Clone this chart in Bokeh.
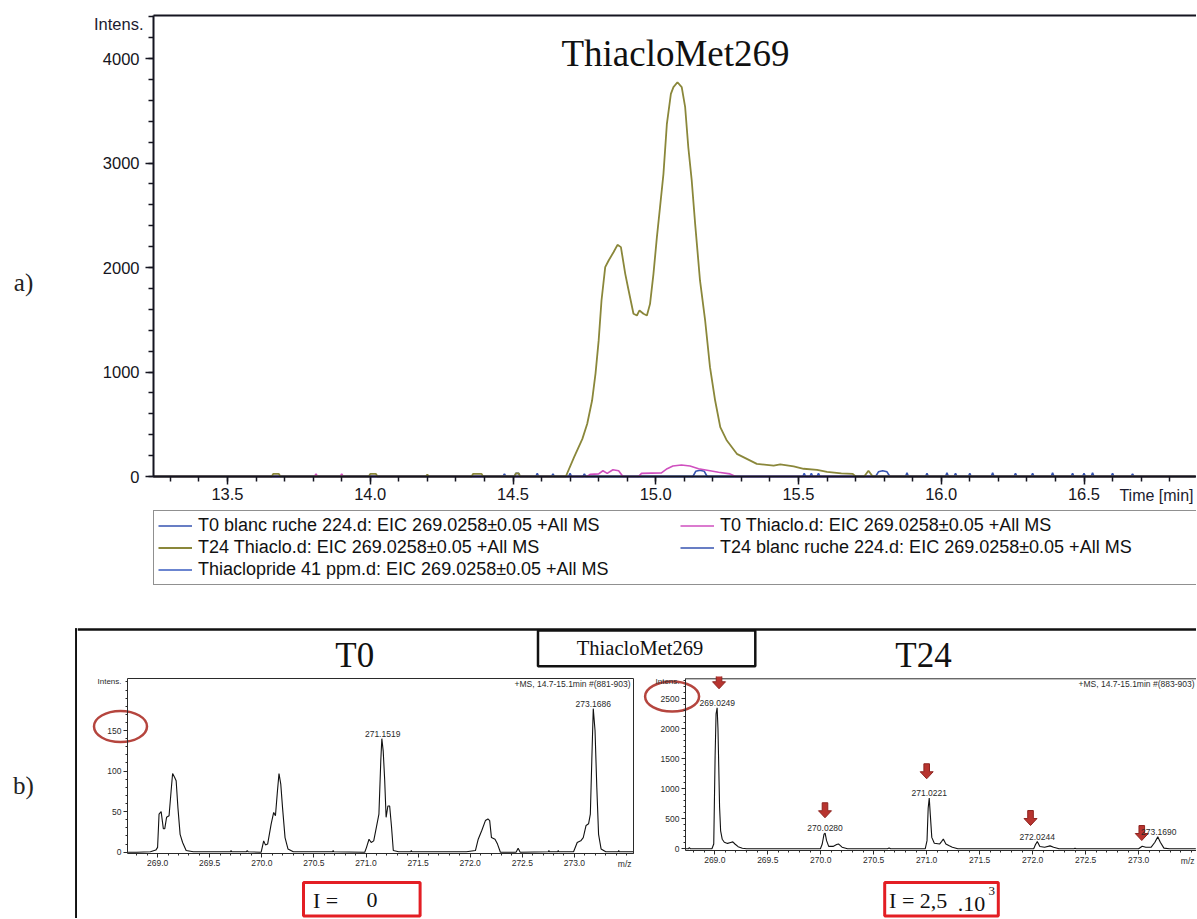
from bokeh.plotting import figure
from bokeh.models import (Range1d, FixedTicker, PrintfTickFormatter, Legend, LegendItem,
                          Label, LabelSet, ColumnDataSource)
from bokeh.layouts import row, column
from bokeh.embed import file_html
from bokeh.resources import INLINE
from bokeh.core.properties import value

# ================= DATA =================
# a) EIC 269.0258 +/- 0.05 chromatograms (time [min], intensity)
t24_thiaclo_t = [13.24, 13.655, 13.66, 13.68, 13.685, 13.995, 14.0, 14.02, 14.025, 14.195, 14.2, 14.205,
                 14.355, 14.36, 14.39, 14.395, 14.505, 14.51, 14.52, 14.525, 14.685, 14.714, 14.743, 14.760,
                 14.777, 14.789, 14.800, 14.810, 14.823, 14.835, 14.852, 14.866, 14.878, 14.893, 14.905,
                 14.922, 14.934, 14.943, 14.957, 14.969, 14.980, 14.992, 15.004, 15.015, 15.027, 15.039,
                 15.053, 15.062, 15.076, 15.091, 15.103, 15.114, 15.126, 15.138, 15.155, 15.173, 15.190,
                 15.208, 15.226, 15.249, 15.284, 15.319, 15.354, 15.413, 15.436, 15.483, 15.518, 15.565,
                 15.60, 15.65, 15.69, 15.70, 15.73, 15.745, 15.76, 16.89]
t24_thiaclo_i = [0, 0, 25, 25, 0, 0, 25, 25, 0, 0, 20, 0,
                 0, 25, 25, 0, 0, 30, 30, 0, 0, 185, 360, 505,
                 727, 985, 1300, 1684, 2003, 2067, 2146, 2217, 2195, 1942, 1780,
                 1557, 1541, 1589, 1557, 1541, 1652, 1939, 2290, 2577, 2896, 3375,
                 3662, 3726, 3773, 3726, 3534, 3151, 2833, 2418, 1876, 1493, 1046,
                 727, 472, 344, 217, 169, 121, 105, 115, 96, 74, 64,
                 45, 30, 25, 0, 0, 55, 0, 0]

t0_thiaclo_t = [13.24, 13.805, 13.81, 13.815, 13.895, 13.90, 13.905, 14.76, 14.77, 14.80, 14.815, 14.83,
                14.85, 14.87, 14.885, 14.94, 14.95, 15.02, 15.04, 15.06, 15.09, 15.12, 15.15, 15.18,
                15.22, 15.26, 15.28, 16.89]
t0_thiaclo_i = [0, 0, 25, 0, 0, 25, 0, 0, 20, 25, 55, 30,
                65, 55, 0, 0, 30, 35, 75, 100, 110, 100, 75, 60,
                40, 25, 0, 0]

t0_blank_t = [13.24, 14.465, 14.47, 14.475, 14.58, 14.585, 14.59, 14.635, 14.64, 14.645,
              14.695, 14.70, 14.705, 14.745, 14.75, 14.755, 15.875, 15.88, 15.885, 15.945,
              15.95, 15.955, 16.015, 16.02, 16.025, 16.095, 16.10, 16.105, 16.175, 16.18,
              16.185, 16.255, 16.26, 16.265, 16.315, 16.32, 16.325, 16.385, 16.39, 16.395,
              16.455, 16.46, 16.465, 16.525, 16.53, 16.535, 16.595, 16.60, 16.605, 16.665,
              16.67, 16.675, 16.89]
t0_blank_i = [0, 0, 25, 0, 0, 30, 0, 0, 25, 0,
              0, 30, 0, 0, 25, 0, 0, 35, 0, 0,
              30, 0, 0, 35, 0, 0, 30, 0, 0, 35,
              0, 0, 30, 0, 0, 30, 0, 0, 35, 0,
              0, 30, 0, 0, 35, 0, 0, 30, 0, 0,
              25, 0, 0]

t24_blank_t = [13.24, 14.505, 14.51, 14.52, 14.525, 15.13, 15.14, 15.155, 15.17, 15.18, 15.77,
               15.78, 15.795, 15.81, 15.82, 16.045, 16.05, 16.055, 16.495, 16.5, 16.505, 16.89]
t24_blank_i = [0, 0, 30, 30, 0, 0, 50, 60, 50, 0, 0,
               45, 55, 45, 0, 0, 30, 0, 0, 30, 0, 0]

thiaclopride_t = [13.24, 15.515, 15.52, 15.525, 15.54, 15.545, 15.55, 15.565, 15.57, 15.575, 16.89]
thiaclopride_i = [0, 0, 30, 0, 0, 30, 0, 0, 30, 0, 0]

legend_labels = ["T0 blanc ruche 224.d: EIC 269.0258\u00b10.05 +All MS",
                 "T0 Thiaclo.d: EIC 269.0258\u00b10.05 +All MS",
                 "T24 Thiaclo.d: EIC 269.0258\u00b10.05 +All MS",
                 "T24 blanc ruche 224.d: EIC 269.0258\u00b10.05 +All MS",
                 "Thiaclopride 41 ppm.d: EIC 269.0258\u00b10.05 +All MS"]

a_x_ticks = [13.5, 14.0, 14.5, 15.0, 15.5, 16.0, 16.5]
a_y_ticks = [0, 1000, 2000, 3000, 4000]

# b) mass spectra, +MS 14.7-15.1 min
t0_mz = [268.716, 268.80, 268.931, 268.983, 269.000, 269.014, 269.034, 269.055, 269.069, 269.086,
         269.110, 269.130, 269.144, 269.164, 269.178, 269.195, 269.216, 269.240, 269.274, 269.343,
         269.70, 269.705, 269.71, 269.85, 269.86, 269.87, 269.994, 270.018, 270.035, 270.056,
         270.090, 270.114, 270.131, 270.148, 270.165, 270.182, 270.199, 270.223, 270.251, 270.302,
         270.68, 270.685, 270.69, 270.988, 271.005, 271.029, 271.050, 271.074, 271.097, 271.124,
         271.142, 271.152, 271.165, 271.179, 271.193, 271.210, 271.227, 271.245, 271.262, 271.313,
         271.43, 271.435, 271.44, 271.964, 272.050, 272.077, 272.112, 272.146, 272.170, 272.187,
         272.204, 272.238, 272.262, 272.290, 272.44, 272.46, 272.48, 272.75, 272.755, 272.76,
         272.84, 272.845, 272.85, 272.992, 273.027, 273.061, 273.085, 273.112, 273.136, 273.153,
         273.167, 273.181, 273.198, 273.215, 273.232, 273.256, 273.301, 273.42, 273.425, 273.43,
         273.567]
t0_int = [0, 0, 0.5, 2.6, 6, 47, 50, 29, 29, 43,
          45, 76, 97, 92, 88, 55, 22, 12, 2, 0.5,
          0.5, 2, 0.5, 0.5, 2, 0.5, 0, 14, 9, 10,
          35, 49, 45, 72, 97, 84, 55, 18, 4, 0.5,
          0.5, 2, 0.5, 0, 6, 16, 12, 14, 29, 47,
          113, 140, 125, 90, 43, 57, 57, 31, 2, 0.5,
          0.5, 2, 0.5, 0.5, 2, 16, 27, 39, 41, 39,
          18, 16, 10, 0, 0, 5, 0, 0.5, 2, 0.5,
          0.5, 2, 0.5, 0.5, 12, 14, 18, 33, 35, 47,
          113, 177, 150, 80, 22, 4, 0.5, 0.5, 2, 0.5,
          0.5]

t24_mz = [268.723, 268.75, 268.76, 268.77, 268.973, 268.990, 269.003, 269.012, 269.022, 269.030,
          269.037, 269.045, 269.055, 269.070, 269.090, 269.120, 269.150, 269.170, 269.190, 269.220,
          269.260, 269.300, 269.997, 270.014, 270.031, 270.041, 270.055, 270.075, 270.116, 270.150,
          270.167, 270.201, 270.253, 270.63, 270.645, 270.66, 270.986, 271.003, 271.014, 271.024,
          271.034, 271.048, 271.072, 271.123, 271.140, 271.157, 271.181, 271.208, 271.242, 271.294,
          272.010, 272.027, 272.044, 272.068, 272.113, 272.164, 272.198, 272.249, 272.39, 272.40,
          272.41, 273.000, 273.034, 273.068, 273.119, 273.154, 273.181, 273.205, 273.239, 273.290,
          273.54]
t24_int = [0, 0, 20, 0, 0, 80, 1550, 2250, 2350, 2000,
           1400, 700, 300, 160, 110, 90, 105, 115, 80, 35,
           10, 0, 0, 80, 245, 261, 136, 40, 40, 70,
           81, 27, 0, 0, 15, 0, 0, 136, 680, 845,
           570, 190, 92, 81, 120, 163, 81, 54, 27, 0,
           0, 71, 120, 38, 27, 49, 27, 0, 0, 10,
           0, 0, 43, 27, 27, 109, 201, 109, 11, 0,
           0]

t0_peak_mz = [271.160, 273.181]
t0_peak_int = [140, 177]
t0_peak_lab = ["271.1519", "273.1686"]

t24_peak_mz = [269.024, 270.041, 271.024, 272.044, 273.190]
t24_peak_int = [2350, 261, 845, 120, 201]
t24_peak_lab = ["269.0249", "270.0280", "271.0221", "272.0244", "273.1690"]

t24_arrow_mz = [269.04, 270.04, 271.00, 271.98, 273.03]
t24_arrow_tip = [2667, 517, 1167, 388, 138]

ms_x_ticks = [269.0, 269.5, 270.0, 270.5, 271.0, 271.5, 272.0, 272.5, 273.0]
t0_y_ticks = [0, 50, 100, 150]
t24_y_ticks = [0, 500, 1000, 1500, 2000, 2500]

# ================= STYLE =================
SANS = "Liberation Sans"
SERIF = "Liberation Serif"
OLIVE = "#8a873a"
PINK = "#cf4fbf"
BLUE = "#3653b0"
BLUE2 = "#3a5cc0"
RED = "#e31e24"
DARKRED = "#b8342f"
CIRCLE = "#b5453e"


def base_fig(w, h, xr, yr):
    p = figure(width=w, height=h, x_range=Range1d(*xr), y_range=Range1d(*yr),
               output_backend="svg", toolbar_location=None,
               min_border_left=0, min_border_right=0, min_border_top=0, min_border_bottom=0)
    if "frame_align" in p.properties():
        p.frame_align = False
    p.grid.visible = False
    p.outline_line_color = None
    return p


def blank_fig(w, h, xr, yr):
    p = base_fig(w, h, xr, yr)
    p.axis.visible = False
    return p


def style_axis(ax, font_px, tick_out, minor_out, line_w, color):
    ax.axis_line_width = line_w
    ax.axis_line_color = color
    ax.major_tick_out = tick_out
    ax.major_tick_in = 0
    ax.minor_tick_out = minor_out
    ax.minor_tick_in = 0
    ax.major_tick_line_color = color
    ax.minor_tick_line_color = color
    ax.major_label_text_font = SANS
    ax.major_label_text_font_size = font_px
    ax.major_label_text_color = color


# ---------------- a) chromatogram ----------------
def tx(px):          # page pixel -> time
    return 13.5 + (px - 227.0) / 285.5


def ty(py):          # page pixel -> intensity
    return (476.0 - py) / 0.1045


top = base_fig(1121, 600, (tx(75), tx(1196)), (ty(600), ty(0)))
A_L, A_R, A_B, A_T = tx(153), tx(1196), 0.0, ty(15)

r_t0b = top.line(t0_blank_t, t0_blank_i, line_color=BLUE, line_width=1.6)
r_t24b = top.line(t24_blank_t, t24_blank_i, line_color=BLUE, line_width=1.6)
r_thp = top.line(thiaclopride_t, thiaclopride_i, line_color=BLUE2, line_width=1.6)
r_t0t = top.line(t0_thiaclo_t, t0_thiaclo_i, line_color=PINK, line_width=1.6)
r_t24t = top.line(t24_thiaclo_t, t24_thiaclo_i, line_color=OLIVE, line_width=1.8)

xa = top.xaxis[0]
xa.ticker = FixedTicker(ticks=a_x_ticks, minor_ticks=[round(13.3 + 0.1 * k, 1) for k in range(36)])
xa.formatter = PrintfTickFormatter(format="%.1f")
xa.fixed_location = A_B
xa.bounds = (A_L, A_R)
ya = top.yaxis[0]
ya.ticker = FixedTicker(ticks=a_y_ticks, minor_ticks=[200 * k for k in range(23)])
ya.fixed_location = A_L
ya.bounds = (A_B, A_T)
for ax in (xa, ya):
    style_axis(ax, "16.5px", 8, 5, 2, "#151520")
    ax.major_tick_line_width = 1.5
    ax.minor_tick_line_width = 1.5
xa.major_label_standoff = 3
ya.major_label_standoff = 6
top.segment(x0=[A_L], y0=[A_T], x1=[A_R], y1=[A_T], line_color="#151520", line_width=2)

top.add_layout(Label(x=tx(143), y=ty(23), text="Intens.", text_align="right",
                     text_baseline="middle", text_font=SANS, text_font_size="16.5px",
                     text_color="#1c1c30"))
top.add_layout(Label(x=tx(1193), y=ty(495), text="Time [min]", text_align="right",
                     text_baseline="middle", text_font=SANS, text_font_size="16px",
                     text_color="#1c1c30"))
top.add_layout(Label(x=tx(675), y=ty(53), text="ThiacloMet269", text_align="center",
                     text_baseline="middle", text_font=SERIF, text_font_size="37px",
                     text_color="#111111"))

legend = Legend(items=[LegendItem(label=legend_labels[0], renderers=[r_t0b]),
                       LegendItem(label=legend_labels[2], renderers=[r_t24t]),
                       LegendItem(label=legend_labels[4], renderers=[r_thp]),
                       LegendItem(label=legend_labels[1], renderers=[r_t0t]),
                       LegendItem(label=legend_labels[3], renderers=[r_t24b])],
                location=(78, 15), orientation="vertical", ncols=2, margin=0, padding=4,
                spacing=1, glyph_width=34, glyph_height=21, label_height=21,
                label_width=481, label_standoff=6,
                label_text_font=SANS, label_text_font_size="18px", label_text_color="#111111",
                border_line_color="#222222", border_line_width=1.2,
                background_fill_color="white", background_fill_alpha=1.0)
top.add_layout(legend)


# ---------------- b) spectra ----------------
def spectrum(width, fx, fy, cx0, cx1, area, mz, inten, yticks, yminor):
    L, R, B, T = fx(area[0]), fx(area[1]), fy(area[2]), fy(area[3])
    p = base_fig(width, 198, (fx(cx0), fx(cx1)), (fy(874), fy(676)))
    p.line(mz, inten, line_color="#111111", line_width=1.1)
    xa_ = p.xaxis[0]
    xa_.ticker = FixedTicker(ticks=ms_x_ticks,
                             minor_ticks=[round(268.8 + 0.1 * k, 1) for k in range(48)])
    xa_.formatter = PrintfTickFormatter(format="%.1f")
    xa_.fixed_location = B
    xa_.bounds = (L, R)
    ya_ = p.yaxis[0]
    ya_.ticker = FixedTicker(ticks=yticks, minor_ticks=yminor)
    ya_.formatter = PrintfTickFormatter(format="%d")
    ya_.fixed_location = L
    ya_.bounds = (B, T)
    for ax in (xa_, ya_):
        style_axis(ax, "8.5px", 4, 2, 1, "#2a2a2a")
        ax.major_label_standoff = 2
    p.segment(x0=[L], y0=[T], x1=[R], y1=[T], line_color="#2a2a2a", line_width=1)
    p.add_layout(Label(x=L, y=T, x_offset=-6, y_offset=-3, text="Intens.", text_align="right",
                       text_baseline="middle", text_font=SANS, text_font_size="8px",
                       text_color="#2a2a2a"))
    p.add_layout(Label(x=R, y=B, x_offset=-2, y_offset=-10, text="m/z", text_align="right",
                       text_baseline="middle", text_font=SANS, text_font_size="8.5px",
                       text_color="#2a2a2a"))
    return p, (L, R, B, T)


def t0x(px):
    return 269.0 + (px - 157.1) / 104.2


def t0y(py):
    return (851.7 - py) / 0.811


def t24x(px):
    return 269.0 + (px - 714.3) / 105.95


def t24y(py):
    return (848.3 - py) / 0.06


spec0, (L0, R0, B0, T0) = spectrum(563, t0x, t0y, 77, 640, (127, 633, 853.3, 678),
                                   t0_mz, t0_int, t0_y_ticks, [10 * k for k in range(22)])
spec0.segment(x0=[R0], y0=[B0], x1=[R0], y1=[T0], line_color="#2a2a2a", line_width=1)
spec0.add_layout(Label(x=R0, y=T0, text="+MS, 14.7-15.1min #(881-903)",
                       x_offset=-3, y_offset=-5, text_align="right", text_baseline="middle",
                       text_font=SANS, text_font_size="8.5px", text_color="#2a2a2a"))
spec0.add_layout(LabelSet(x="mz", y="i", text="lab", y_offset=2, text_align="center",
                          text_baseline="bottom", text_font=value(SANS), text_font_size="8.5px",
                          text_color="#2a2a2a",
                          source=ColumnDataSource(dict(mz=t0_peak_mz, i=t0_peak_int,
                                                       lab=t0_peak_lab))))
spec0.ellipse(x=[t0x(120)], y=[t0y(726)], width=53, height=31, width_units="screen",
              height_units="screen", fill_color=None, line_color=CIRCLE, line_width=2.5)

spec24, (L24, R24, B24, T24) = spectrum(556, t24x, t24y, 640, 1196, (685, 1196, 850, 678.3),
                                        t24_mz, t24_int, t24_y_ticks, [100 * k for k in range(29)])
spec24.add_layout(Label(x=R24, y=T24, text="+MS, 14.7-15.1min #(883-903)",
                        x_offset=-2, y_offset=-5, text_align="right", text_baseline="middle",
                        text_font=SANS, text_font_size="8.5px", text_color="#2a2a2a"))
spec24.add_layout(LabelSet(x="mz", y="i", text="lab", y_offset=2, text_align="center",
                           text_baseline="bottom", text_font=value(SANS), text_font_size="8.5px",
                           text_color="#2a2a2a",
                           source=ColumnDataSource(dict(mz=t24_peak_mz, i=t24_peak_int,
                                                        lab=t24_peak_lab))))
# red block arrows pointing at the peaks (shape given in pixels)
px_x = 1 / 105.95
px_y = 1 / 0.06
shape_dx = [0, -6.5, -2.8, -2.8, 2.8, 2.8, 6.5]
shape_dy = [0, 7, 7, 15, 15, 7, 7]
arrow_xs = [[m + d * px_x for d in shape_dx] for m in t24_arrow_mz]
arrow_ys = [[t + d * px_y for d in shape_dy] for t in t24_arrow_tip]
spec24.patches(arrow_xs, arrow_ys, fill_color=DARKRED, line_color="#8e2420", line_width=1)
spec24.ellipse(x=[t24x(671.6)], y=[t24y(696)], width=54, height=30, width_units="screen",
               height_units="screen", fill_color=None, line_color=CIRCLE, line_width=2.5)

# ---------------- frame / header / labels ----------------
left_a = blank_fig(75, 600, (0, 75), (600, 0))
left_a.text(x=[23], y=[282], text=["a)"], text_font=value(SERIF),
            text_font_size="25px", text_align="center", text_baseline="middle", text_color="#222222")

left_b = blank_fig(77, 318, (0, 77), (918, 600))
left_b.text(x=[23], y=[785], text=["b)"], text_font=value(SERIF),
            text_font_size="25px", text_align="center", text_baseline="middle", text_color="#222222")
left_b.segment(x0=[75.8, 74.5], y0=[628, 629], x1=[75.8, 77], y1=[918, 629],
               line_color="#111111", line_width=2.5)

header = blank_fig(1119, 76, (77, 1196), (676, 600))
header.segment(x0=[77], y0=[629], x1=[1196], y1=[629], line_color="#111111", line_width=2.5)
header.quad(left=[537.5], right=[754.8], top=[630], bottom=[665.7], fill_color=None,
            line_color="#111111", line_width=2.5)
header.text(x=[639.5], y=[647], text=["ThiacloMet269"], text_font=value(SERIF),
            text_font_size="20.5px", text_align="center", text_baseline="middle",
            text_color="#111111")
header.text(x=[354.3, 923], y=[655, 655], text=["T0", "T24"], text_font=value(SERIF),
            text_font_size="35px", text_align="center", text_baseline="middle",
            text_color="#111111")

strip = blank_fig(1119, 44, (77, 1196), (918, 874))
strip.quad(left=[303, 884.2], right=[419.6, 997.8], top=[882, 882], bottom=[915.5, 915.5],
           fill_color=None, line_color=RED, line_width=3)
strip.text(x=[312.5, 888.6], y=[900, 900], text=["I =", "I = 2,5"], text_font=value(SERIF),
           text_font_size="22px", text_align="left", text_baseline="middle",
           text_color="#111111")
strip.text(x=[366, 957.3], y=[899, 903], text=["0", ".10"], text_font=value(SERIF),
           text_font_size="22px", text_align="left", text_baseline="middle",
           text_color="#111111")
strip.text(x=[988], y=[890], text=["3"], text_font=value(SERIF), text_font_size="13px",
           text_align="left", text_baseline="middle", text_color="#111111")

layout = column(row(left_a, top),
                row(left_b, column(header, row(spec0, spec24), strip)))

open("out.html", "w").write(file_html(layout, INLINE))
